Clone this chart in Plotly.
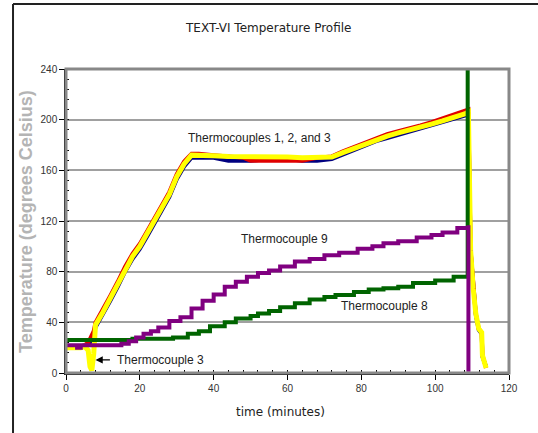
import plotly.graph_objects as go

# ---------------- data ----------------
tc_time = [0, 2, 4, 5, 6, 6.5, 7, 7.5, 8, 10, 12, 14, 16, 18, 20, 22, 24, 26, 28, 30,
           32, 34, 36, 40, 44, 48, 50, 55, 60, 64, 68, 72, 75, 78, 81, 84, 87, 90, 93,
           96, 99, 102, 105, 108, 109.0, 109.6, 110.3, 111, 111.8, 112.6, 112.8, 113.8]

tc1_red = [21, 21, 21, 22, 24, 27, 30, 33, 40, 50, 61, 72, 84, 94, 102, 112, 122, 132, 143, 157,
           167, 173, 173, 172, 171, 170, 167.5, 167.5, 167.5, 167.5, 170, 171, 175, 178.5, 182, 185.5, 188.5, 191, 193,
           195.5, 198, 201, 203.5, 206.5, 208, 97, 67, 47, 35, 32, 14, 4]

tc2_blue = [20, 20, 20, 21, 22, 24, 27, 30, 36, 46, 57, 68, 80, 90, 98, 108, 118, 128, 139, 153,
            163, 170, 170, 170, 167.5, 167.5, 167.5, 169, 169, 167.5, 167.5, 169, 172.5, 176, 179.5, 183, 185.5, 188, 190,
            192.5, 195, 197.5, 200, 203, 204, 96, 66, 46, 34, 31, 13, 5]

tc3_yellow = [20, 20, 20, 21, 18, 5, 2, 15, 38, 48, 59, 70, 82, 92, 100, 110, 120, 130, 141, 155,
              165, 172, 172, 171.5, 171, 171, 171, 170.5, 170.5, 170, 170, 170.5, 174, 177.5, 181, 184.5, 187, 189.5, 191.5,
              194, 196.5, 199, 201.5, 204.5, 206, 97, 67, 47, 35, 32, 14, 4]

tc9_time = [0, 3, 4, 10, 15, 17, 19, 21, 23, 25, 28, 31, 34, 37, 40, 43, 46, 49, 52, 55,
            58, 62, 66, 70, 74, 79, 83, 86, 90, 95, 99, 102, 106, 109, 109.01]
tc9_purple = [22, 20, 22, 22, 23, 25, 28, 31, 33, 36, 41, 44, 51, 57, 62, 68, 72, 76, 79, 81,
              84, 88, 90, 93, 95, 98, 100, 102.5, 104, 107, 109, 111, 114.5, 115, 1]

tc8_time = [0, 10, 18, 23, 29, 33, 36, 39, 43, 46, 50, 52, 55, 58, 62, 66, 70, 73, 78, 82,
            86, 90, 94, 100, 105, 108.8, 108.81]
tc8_green = [26, 26, 27, 27, 28, 31, 33, 37, 40, 43, 45, 47, 49, 52, 55, 58, 60, 61.5, 64, 66,
             67, 68, 71, 73, 76, 77, 240]

x_ticks = [0, 20, 40, 60, 80, 100, 120]
y_ticks = [0, 40, 80, 120, 160, 200, 240]

labels = ["Thermocouples 1, 2, and 3", "Thermocouple 9", "Thermocouple 8", "Thermocouple 3"]
label_x = [52.3, 59.3, 86.4, 13.3]
label_y = [185.5, 105.8, 52.9, 10.3]

# ---------------- figure ----------------
fig = go.Figure()
fig.add_trace(go.Scatter(x=tc_time, y=tc2_blue, mode="lines", line=dict(color="#000080", width=4)))
fig.add_trace(go.Scatter(x=tc_time, y=tc1_red, mode="lines", line=dict(color="#e00000", width=4)))
fig.add_trace(go.Scatter(x=tc_time, y=tc3_yellow, mode="lines", line=dict(color="#ffff00", width=5)))
fig.add_trace(go.Scatter(x=tc8_time, y=tc8_green, mode="lines", line=dict(color="#006400", width=4, shape="hv")))
fig.add_trace(go.Scatter(x=tc9_time, y=tc9_purple, mode="lines", line=dict(color="#800080", width=4, shape="hv")))

lab_font = dict(family="Liberation Sans, Arial", size=12, color="#222")
for i, t in enumerate(labels):
    fig.add_annotation(x=label_x[i], y=label_y[i], text=t, showarrow=False, font=lab_font,
                       xanchor="left" if i == 3 else "center", yanchor="middle")
# arrow for Thermocouple 3
fig.add_annotation(x=8.0, y=label_y[3], ax=12.3, ay=label_y[3], axref="x", ayref="y", text="",
                   showarrow=True, arrowhead=2, arrowsize=1.2, arrowwidth=1.2, arrowcolor="#000")

# title & axis titles
fig.add_annotation(xref="paper", yref="paper", x=0.456, y=1.135, text="TEXT-VI Temperature Profile",
                   xanchor="center", yanchor="middle",
                   showarrow=False, font=dict(family="DejaVu Sans", size=12, color="#222"))
fig.add_annotation(xref="paper", yref="paper", x=0.485, y=-0.128, text="time (minutes)",
                   xanchor="center", yanchor="middle",
                   showarrow=False, font=dict(family="DejaVu Sans", size=12, color="#222"))
fig.add_annotation(xref="paper", yref="paper", x=-0.0903, y=0.5, text="<b>Temperature (degrees Celsius)</b>",
                   xanchor="center", yanchor="middle",
                   textangle=-90, showarrow=False, font=dict(family="Liberation Sans, Arial", size=18, color="#b4b4b4"))

# gray plot frame and outer black frame (left and top edges visible)
fig.add_shape(type="rect", xref="paper", yref="paper", x0=0, y0=0, x1=1, y1=1,
              line=dict(color="#888888", width=3), layer="above")
fig.add_shape(type="line", xref="paper", yref="paper", x0=-0.1196, y0=-0.25, x1=-0.1196, y1=1.2138,
              line=dict(color="#222222", width=2), layer="above")
fig.add_shape(type="line", xref="paper", yref="paper", x0=-0.1196, y0=1.2138, x1=1.2, y1=1.2138,
              line=dict(color="#222222", width=2), layer="above")

tick_font = dict(family="Liberation Sans, Arial", size=10, color="#333")
fig.update_layout(
    width=538, height=433,
    margin=dict(l=66, r=29, t=69, b=60),
    paper_bgcolor="white", plot_bgcolor="white",
    showlegend=False,
    xaxis=dict(range=[0, 120], tickvals=x_ticks, showgrid=False, zeroline=False,
               showline=True, linecolor="#000", linewidth=1.5, mirror=False,
               ticks="outside", ticklen=5, tickcolor="#000", tickfont=tick_font,
               minor=dict(dtick=4, ticks="inside", ticklen=3, tickcolor="#000", showgrid=False)),
    yaxis=dict(range=[0, 240], tickvals=y_ticks, showgrid=True, gridcolor="#a0a0a0", gridwidth=1.5,
               zeroline=False, showline=True, linecolor="#000", linewidth=1.5,
               ticks="outside", ticklen=5, tickcolor="#000", tickfont=tick_font,
               minor=dict(dtick=8, ticks="inside", ticklen=3, tickcolor="#000", showgrid=False)),
)

fig.write_html("out.html", config={"displayModeBar": False},
               post_script="document.body.style.margin='0';document.body.style.overflow='hidden';")
